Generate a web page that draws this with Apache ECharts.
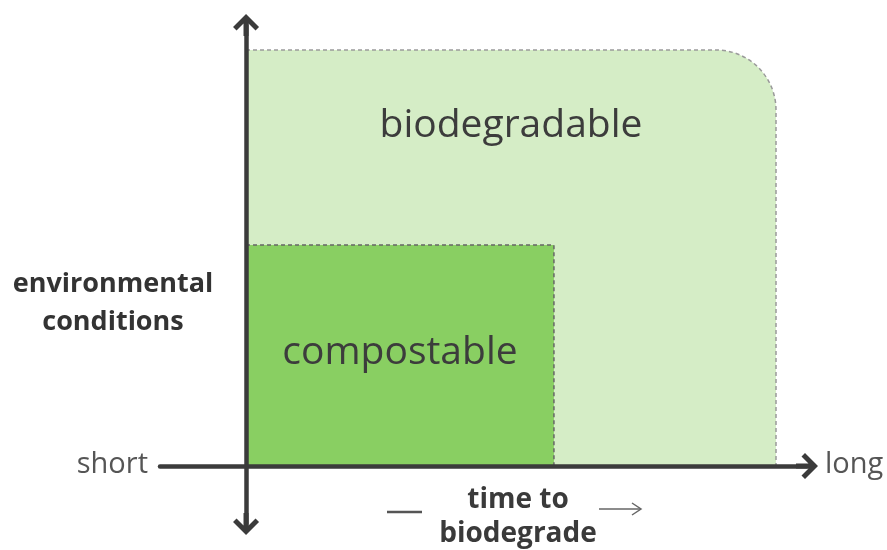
<!DOCTYPE html>
<html>
<head>
<meta charset="utf-8">
<script src="https://cdn.jsdelivr.net/npm/echarts@6/dist/echarts.min.js"></script>
<style>
  html, body { margin: 0; padding: 0; background: #fff; }
  #main { width: 887px; height: 550px; }
</style>
</head>
<body>
<div id="main"></div>
<script>
// regions: [xStart, yStart, xEnd, yEnd] in "time" / "conditions" units
const regionNames = ["biodegradable", "compostable"];
const biodegradable = [0, 0, 10, 10];
const compostable = [0, 0, 5.81, 5.31];
const xLabels = ["short", "long"];
const yLabel = "environmental\nconditions";
const xTitle = "time to\nbiodegrade";

const axisColor = "#3b3b3b";
const font = "'Open Sans', sans-serif";
// chevron arrow with a short stem, pointing up
const arrow = "path://M14,0 L27,13 L23.5,16.5 L16.5,9.5 L16.5,22 L11.5,22 L11.5,9.5 L4.5,16.5 L1,13 Z";

const myChart = echarts.init(document.getElementById("main"));

const rectItem = (fill, stroke, radius, label, labelDy) => (params, api) => {
  const p0 = api.coord([api.value(0), api.value(1)]);
  const p1 = api.coord([api.value(2), api.value(3)]);
  const w = p1[0] - p0[0];
  const h = p0[1] - p1[1];
  return {
    type: "group",
    children: [
      {
        type: "rect",
        shape: { x: p0[0], y: p1[1], width: w, height: h, r: [0, radius, 0, 0] },
        style: { fill: fill, stroke: stroke, lineWidth: 1.5, lineDash: [4, 3] },
      },
      {
        type: "text",
        x: p0[0] + w / 2,
        y: labelDy == null ? p1[1] + h / 2 - 3 : p1[1] + labelDy,
        style: {
          text: label,
          fill: "#3c3c3c",
          font: "39px " + font,
          textAlign: "center",
          textVerticalAlign: "middle",
        },
      },
    ],
  };
};

const option = {
  animation: false,
  grid: { left: 160, right: 80, top: 25, bottom: 26 },
  xAxis: {
    type: "value",
    min: -1.623,
    max: 10.585,
    z: 5,
    axisLine: {
      show: true,
      onZero: true,
      symbol: ["none", arrow],
      symbolSize: [27, 22],
      lineStyle: { color: axisColor, width: 4.5 },
    },
    axisTick: { show: false },
    axisLabel: { show: false },
    splitLine: { show: false },
  },
  yAxis: {
    type: "value",
    min: -1.394,
    max: 10.601,
    z: 5,
    axisLine: {
      show: true,
      onZero: true,
      symbol: [arrow, arrow],
      symbolSize: [27, 22],
      lineStyle: { color: axisColor, width: 4.5 },
    },
    axisTick: { show: false },
    axisLabel: { show: false },
    splitLine: { show: false },
  },
  series: [
    {
      name: regionNames[0],
      type: "custom",
      z: 1,
      renderItem: rectItem("#d5edc6", "#9a9a9a", 60, regionNames[0], 76),
      data: [biodegradable],
    },
    {
      name: regionNames[1],
      type: "custom",
      z: 2,
      renderItem: rectItem("#89cf62", "#666666", 0, regionNames[1]),
      data: [compostable],
    },
  ],
  graphic: [
    {
      type: "text",
      x: 113,
      y: 303,
      style: {
        text: yLabel,
        font: "bold 27px " + font,
        lineHeight: 38,
        fill: "#333",
        textAlign: "center",
        textVerticalAlign: "middle",
      },
    },
    {
      type: "text",
      x: 148,
      y: 465,
      style: {
        text: xLabels[0],
        font: "29px " + font,
        fill: "#555",
        textAlign: "right",
        textVerticalAlign: "middle",
      },
    },
    {
      type: "text",
      x: 825,
      y: 465,
      style: {
        text: xLabels[1],
        font: "29px " + font,
        fill: "#555",
        textAlign: "left",
        textVerticalAlign: "middle",
      },
    },
    {
      type: "text",
      x: 518,
      y: 517,
      style: {
        text: xTitle,
        font: "bold 28px " + font,
        lineHeight: 34,
        fill: "#3a3a3a",
        textAlign: "center",
        textVerticalAlign: "middle",
      },
    },
    {
      type: "line",
      shape: { x1: 387, y1: 512, x2: 422, y2: 512 },
      style: { stroke: "#555", lineWidth: 2.5 },
    },
    {
      type: "polyline",
      shape: { points: [[599, 509], [641, 509]] },
      style: { stroke: "#666", lineWidth: 1.5 },
    },
    {
      type: "polyline",
      shape: { points: [[632, 503], [641, 509], [632, 515]] },
      style: { stroke: "#666", lineWidth: 1.5, fill: null },
    },
  ],
};

myChart.setOption(option);
window.onresize = () => {
  myChart.resize();
};
</script>
</body>
</html>
